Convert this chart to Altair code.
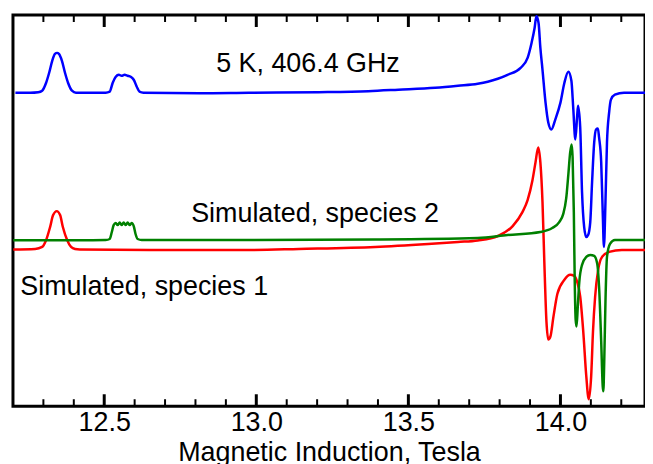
import altair as alt
import pandas as pd

# Experimental spectrum (blue), field in Tesla, signal in arbitrary units
exp_B = [12.208, 12.257, 12.283, 12.296, 12.309, 12.319, 12.329, 12.338, 12.345, 12.351,
         12.361, 12.371, 12.381, 12.394, 12.407, 12.505, 12.518, 12.528, 12.538, 12.548,
         12.557, 12.567, 12.577, 12.587, 12.597, 12.607, 12.616, 12.629, 12.813, 12.976,
         13.205, 13.368, 13.467, 13.588, 13.663, 13.728, 13.761, 13.794, 13.826, 13.869,
         13.892, 13.905, 13.915, 13.921, 13.928, 13.934, 13.941, 13.951, 13.960, 13.970,
         13.983, 14.000, 14.013, 14.026, 14.036, 14.042, 14.049, 14.055, 14.058, 14.065,
         14.071, 14.078, 14.085, 14.091, 14.098, 14.104, 14.111, 14.117, 14.123, 14.127,
         14.134, 14.139, 14.143, 14.148, 14.153, 14.160, 14.166, 14.179, 14.209, 14.278]
exp_I = [315, 315, 315.5, 317, 325, 335, 347, 354, 355, 354,
         347, 335, 325, 317, 315, 315, 316, 325, 331, 333,
         332, 333, 332, 331, 328, 321, 316, 315, 314.5, 315,
         315.5, 316.5, 318, 320, 322, 324, 326, 329, 333, 340,
         350, 365, 380, 392, 385, 360, 338, 305, 285, 278,
         288, 305, 325, 336, 327, 300, 268, 292, 302, 280,
         215, 180, 170, 172, 185, 225, 265, 278, 279, 270,
         245, 195, 160, 205, 265, 295, 308, 313, 315, 315]

# Simulated, species 1 (red)
sp1_B = [12.201, 12.273, 12.296, 12.309, 12.322, 12.332, 12.344, 12.355, 12.364, 12.378,
         12.391, 12.404, 12.420, 12.649, 12.976, 13.140, 13.391, 13.565, 13.663, 13.728,
         13.794, 13.843, 13.875, 13.892, 13.908, 13.918, 13.927, 13.934, 13.941, 13.947,
         13.954, 13.960, 13.967, 13.977, 13.990, 14.013, 14.032, 14.045, 14.055, 14.065,
         14.075, 14.085, 14.093, 14.101, 14.107, 14.114, 14.124, 14.137, 14.160, 14.202,
         14.278]
sp1_I = [157.5, 158, 160, 167, 180, 192, 196, 192, 180, 167,
         160, 158, 157.5, 157, 157, 158, 160, 163, 165, 166.5,
         171, 181, 195, 207, 227, 245, 260, 245, 205, 145,
         85, 67, 70, 90, 113, 127, 132, 131, 125, 110,
         75, 30, 7, 30, 75, 110, 137, 150, 155, 157,
         157]

# Simulated, species 2 (green)
sp2_B = [12.201, 12.420, 12.505, 12.518, 12.525, 12.531, 12.538, 12.544, 12.551, 12.557,
         12.564, 12.571, 12.577, 12.584, 12.590, 12.597, 12.603, 12.610, 12.623, 12.976,
         13.391, 13.728, 13.826, 13.934, 13.973, 13.996, 14.009, 14.019, 14.026, 14.032,
         14.037, 14.040, 14.044, 14.047, 14.050, 14.053, 14.057, 14.062, 14.071, 14.085,
         14.098, 14.111, 14.121, 14.127, 14.134, 14.139, 14.141, 14.144, 14.148, 14.153,
         14.163, 14.179, 14.278]
sp2_I = [166.7, 166.7, 167, 168, 175, 182, 184, 182, 184.5, 182,
         184.5, 182, 184.5, 182, 184, 181, 173, 168, 167, 167,
         167.5, 169, 172, 175, 179, 185, 193, 209, 233, 255,
         263, 250, 195, 125, 87, 80, 100, 125, 142, 150,
         152, 151, 143, 120, 65, 20, 15, 45, 105, 150,
         163, 167, 167]

labels_text = ["5 K, 406.4 GHz", "Simulated, species 2", "Simulated, species 1"]
labels_B = [12.868, 12.786, 12.224]
labels_I = [336, 185, 112]

major_ticks = [12.5, 13.0, 13.5, 14.0]
minor_ticks = [12.3, 12.4, 12.6, 12.7, 12.8, 12.9, 13.1, 13.2, 13.3, 13.4,
               13.6, 13.7, 13.8, 13.9, 14.1, 14.2]

X_DOMAIN = [12.2, 14.278]
Y_DOMAIN = [0, 393]
W, H = 635, 393
FONT = "Liberation Sans"

df = pd.concat([
    pd.DataFrame({"B": exp_B, "I": exp_I, "series": "exp"}),
    pd.DataFrame({"B": sp1_B, "I": sp1_I, "series": "sp1"}),
    pd.DataFrame({"B": sp2_B, "I": sp2_I, "series": "sp2"}),
])

xs = alt.Scale(domain=X_DOMAIN, nice=False, zero=False)
ys = alt.Scale(domain=Y_DOMAIN, nice=False, zero=False)

lines = alt.Chart(df).mark_line(strokeWidth=2.5, interpolate="monotone", clip=True).encode(
    x=alt.X("B:Q", scale=xs,
            axis=alt.Axis(values=major_ticks, format=".1f", tickSize=0, domain=False, grid=False,
                          labelFontSize=27, labelFont=FONT, labelColor="black", labelPadding=3,
                          title="Magnetic Induction, Tesla", titleFontSize=27, titleFont=FONT,
                          titleFontWeight="normal", titleColor="black", titlePadding=5)),
    y=alt.Y("I:Q", scale=ys, axis=None),
    color=alt.Color("series:N", scale=alt.Scale(domain=["exp", "sp1", "sp2"],
                                                 range=["#0000FF", "#FF0000", "#008000"]),
                    legend=None),
    detail="series:N",
)

lab_df = pd.DataFrame({"B": labels_B, "I": labels_I, "text": labels_text})
texts = alt.Chart(lab_df).mark_text(align="left", baseline="alphabetic", fontSize=27,
                                    font=FONT, color="black").encode(
    x=alt.X("B:Q", scale=xs), y=alt.Y("I:Q", scale=ys), text="text:N")

maj_df = pd.DataFrame({"t": major_ticks})
min_df = pd.DataFrame({"t": minor_ticks})

maj_bot = alt.Chart(maj_df).mark_rule(color="black", strokeWidth=3).encode(
    x=alt.X("t:Q", scale=xs), y=alt.value(H), y2=alt.value(H - 12))
maj_top = alt.Chart(maj_df).mark_rule(color="black", strokeWidth=3).encode(
    x=alt.X("t:Q", scale=xs), y=alt.value(0), y2=alt.value(12))
min_bot = alt.Chart(min_df).mark_rule(color="black", strokeWidth=2).encode(
    x=alt.X("t:Q", scale=xs), y=alt.value(H), y2=alt.value(H - 7))
min_top = alt.Chart(min_df).mark_rule(color="black", strokeWidth=2).encode(
    x=alt.X("t:Q", scale=xs), y=alt.value(0), y2=alt.value(7))

chart = alt.layer(lines, texts, maj_bot, maj_top, min_bot, min_top).properties(
    width=W, height=H,
    padding={"left": 5, "top": 4, "right": 0, "bottom": 0},
).configure(background="white").configure_view(stroke="black", strokeWidth=3)

chart.save("out.html", embed_options={"renderer": "svg", "actions": False})
